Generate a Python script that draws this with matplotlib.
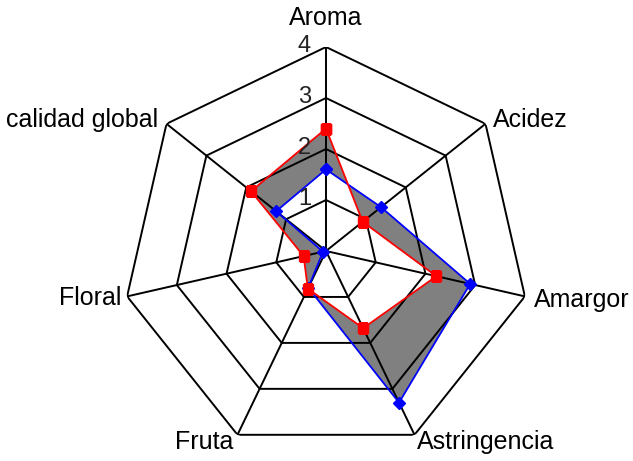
import numpy as np
import matplotlib
matplotlib.use("Agg")
import matplotlib.pyplot as plt
from matplotlib.path import Path
from matplotlib.patches import PathPatch

categories = ["Aroma", "Acidez", "Amargor", "Astringencia", "Fruta", "Floral", "calidad global"]
serie_roja = [2.4, 0.92, 2.22, 1.68, 0.82, 0.45, 1.88]
serie_azul = [1.6, 1.38, 2.9, 3.3, 0.8, 0.06, 1.25]
niveles = [1, 2, 3, 4]

# label offsets in pixels from outer vertex (dx, dy, ha)
label_pos = {
    "Aroma": (0, 29, "center"),
    "Acidez": (7, 4, "left"),
    "Amargor": (9, -4, "left"),
    "Astringencia": (2, -7, "left"),
    "Fruta": (-4, -7, "right"),
    "Floral": (-6, -2, "right"),
    "calidad global": (-8, 4, "right"),
}

plt.rcParams["font.family"] = ["Liberation Sans", "DejaVu Sans"]

n = len(categories)
theta = np.arange(n) * 2 * np.pi / n
theta_c = np.append(theta, theta[0])


def closed(vals):
    return np.append(vals, vals[0])


fig = plt.figure(figsize=(6.33, 4.61), dpi=100)
ax = fig.add_axes([122 / 633, 6 / 461, 408 / 633, 408 / 461], projection="polar")
ax.set_theta_offset(np.pi / 2)
ax.set_theta_direction(-1)
ax.set_ylim(0, 4)
ax.grid(False)
ax.spines["polar"].set_visible(False)
ax.set_xticks([])
ax.set_yticks([])
ax.patch.set_visible(False)

# gray area between the two series (symmetric difference)
roja = np.column_stack([theta_c, closed(serie_roja)])
azul = np.column_stack([theta_c, closed(serie_azul)])[::-1]
verts = np.vstack([roja, azul])
codes = ([Path.MOVETO] + [Path.LINETO] * (n - 1) + [Path.CLOSEPOLY]) * 2
ax.add_patch(PathPatch(Path(verts, codes), facecolor="#808080", edgecolor="none", zorder=1))

# heptagon grid
for lv in niveles:
    ax.plot(theta_c, [lv] * (n + 1), color="black", lw=1.4, zorder=2)
for t in theta:
    ax.plot([t, t], [0, 4], color="black", lw=1.4, zorder=2)

ax.plot(theta_c, closed(serie_azul), color="#0000ff", lw=1.3, marker="D", markersize=6,
        markerfacecolor="#0000ff", markeredgecolor="#0000ff", zorder=3)
ax.plot(theta_c, closed(serie_roja), color="#ff0000", lw=1.3, marker="s", markersize=6.5,
        markerfacecolor="#ff0000", markeredgecolor="#ff0000", zorder=4)

for lv in niveles:
    ax.annotate(str(lv), xy=(0, lv), xytext=(-15 * 0.72, 1 * 0.72), textcoords="offset points",
                ha="right", va="center", fontsize=17, color="#222222",
                annotation_clip=False, zorder=5)

for cat, t in zip(categories, theta):
    dx, dy, ha = label_pos[cat]
    ax.annotate(cat, xy=(t, 4), xytext=(dx * 0.72, dy * 0.72), textcoords="offset points",
                ha=ha, va="center", fontsize=18, annotation_clip=False)

fig.savefig("out.png", dpi=100)
